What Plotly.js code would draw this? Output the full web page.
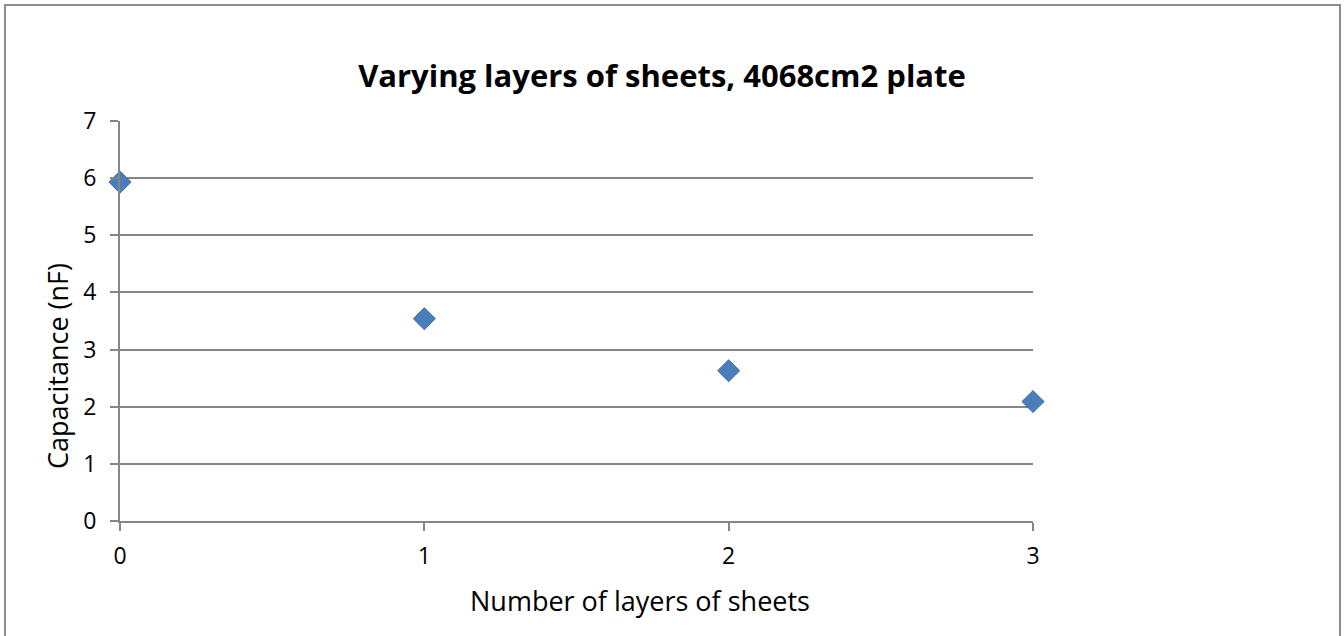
<!DOCTYPE html>
<html><head><meta charset="utf-8">
<script src="https://cdn.plot.ly/plotly-3.0.1.min.js"></script>
<style>
html,body{margin:0;padding:0;background:#fff;overflow:hidden;}
#wrap{position:relative;width:1344px;height:636px;}
#frame{position:absolute;left:4px;top:4px;width:1333px;height:640px;border:2px solid #8c8c8c;pointer-events:none;}
</style>
</head><body>
<div id="wrap"><div id="chart" style="width:1344px;height:636px;"></div><div id="frame"></div></div>
<script>
const layers = [0, 1, 2, 3];
const capacitance = [5.93, 3.54, 2.63, 2.09];
const yTicks = [0, 1, 2, 3, 4, 5, 6, 7];
const xTicks = [0, 1, 2, 3];
const titleText = 'Varying layers of sheets, 4068cm2 plate';
const xTitle = 'Number of layers of sheets';
const yTitle = 'Capacitance (nF)';

const font = '"Open Sans", "Liberation Sans", sans-serif';
const trace = {
  x: layers, y: capacitance, type: 'scatter', mode: 'markers',
  cliponaxis: false,
  marker: {symbol: 'diamond', size: 17, color: '#4a7ebb', line: {color: '#3d6fae', width: 1}}
};
const layout = {
  width: 1344, height: 636,
  margin: {l: 120, r: 311, t: 121, b: 115},
  paper_bgcolor: '#fff', plot_bgcolor: '#fff',
  showlegend: false,
  font: {family: font, color: '#000'},
  title: {text: '<b>' + titleText + '</b>', font: {family: font, size: 31, color: '#000'},
          x: 662/1344, xref: 'container', xanchor: 'center', y: 1 - 76/636, yref: 'container', yanchor: 'middle'},
  xaxis: {range: [0, 3], tickvals: xTicks, ticktext: xTicks.map(String), showgrid: false, zeroline: false,
          showline: true, linecolor: '#868686', linewidth: 2, ticks: 'outside', ticklen: 8, tickwidth: 2, tickcolor: '#868686',
          tickfont: {family: font, size: 23, color: '#000'}, ticklabelstandoff: 5, fixedrange: true},
  yaxis: {range: [0, 7], tickvals: yTicks, ticktext: yTicks.map(String), showgrid: true, gridcolor: '#868686', gridwidth: 2,
          zeroline: false, showline: true, linecolor: '#868686', linewidth: 2, ticks: 'outside', ticklen: 8, tickwidth: 2, tickcolor: '#868686',
          tickfont: {family: font, size: 23, color: '#000'}, ticklabelstandoff: 9, fixedrange: true},
  annotations: [
    {text: xTitle, xref: 'paper', yref: 'paper', x: (640-120)/913, y: -(600-521)/400, xanchor: 'center', yanchor: 'middle',
     showarrow: false, font: {family: font, size: 27, color: '#000'}},
    {text: yTitle, xref: 'paper', yref: 'paper', x: -(120-57)/913, y: (521-366)/400, xanchor: 'center', yanchor: 'middle',
     textangle: -90, showarrow: false, font: {family: font, size: 27, color: '#000'}}
  ]
};
Plotly.newPlot('chart', [trace], layout, {displayModeBar: false, staticPlot: true});
</script>
</body></html>
